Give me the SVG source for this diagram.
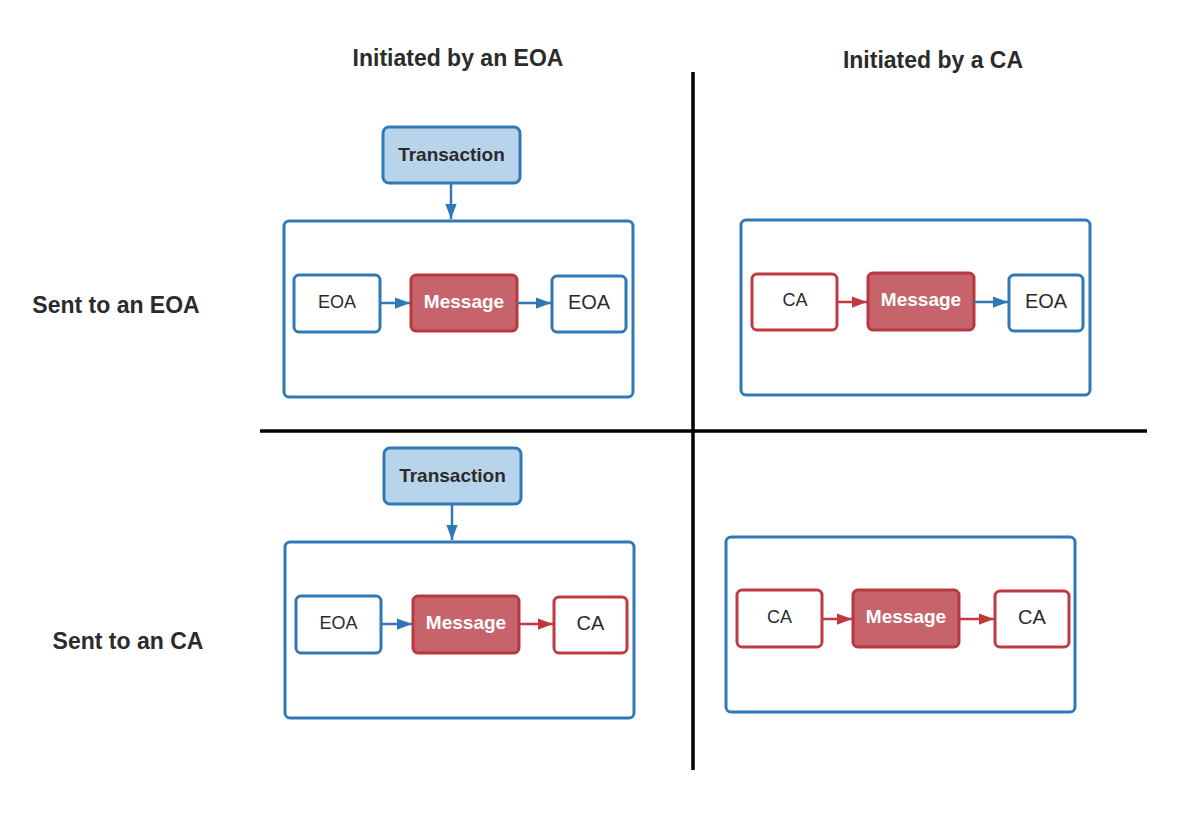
<svg xmlns="http://www.w3.org/2000/svg" width="1200" height="832" viewBox="0 0 1200 832">
<defs>
<marker id="ab" viewBox="0 0 12 9" refX="12" refY="4.5" markerWidth="6" markerHeight="4.5" orient="auto" markerUnits="strokeWidth"><path d="M0,0 L12,4.5 L0,9 z" fill="#2f78b5"/></marker>
<marker id="ar" viewBox="0 0 12 9" refX="12" refY="4.5" markerWidth="6" markerHeight="4.5" orient="auto" markerUnits="strokeWidth"><path d="M0,0 L12,4.5 L0,9 z" fill="#c0393f"/></marker>
</defs>
<style>
.bg{fill:#fff}
.cont{fill:#fff;stroke:#3179b6;stroke-width:3}
.tx{fill:#b8d4ea;stroke:#3179b6;stroke-width:3}
.eoa{fill:#fff;stroke:#3179b6;stroke-width:3}
.ca{fill:#fff;stroke:#c03a41;stroke-width:3}
.msg{fill:#c7646b;stroke:#b83840;stroke-width:3}
.lb{fill:none;stroke:#3179b6;stroke-width:2.5;marker-end:url(#ab)}
.lr{fill:none;stroke:#c03a41;stroke-width:2.5;marker-end:url(#ar)}
.axis{stroke:#000;stroke-width:3.5}
.h{font-family:"Liberation Sans",Arial,sans-serif;font-weight:bold;font-size:23px;fill:#2b2b2b;text-anchor:middle}
.t{font-family:"Liberation Sans",Arial,sans-serif;font-size:18px;fill:#2b2b2b;text-anchor:middle}
.tb{font-family:"Liberation Sans",Arial,sans-serif;font-weight:bold;font-size:19px;fill:#2b2b2b;text-anchor:middle}
.tw{font-family:"Liberation Sans",Arial,sans-serif;font-weight:bold;font-size:19px;fill:#fff;text-anchor:middle}
</style>
<rect class="bg" width="1200" height="832"/>
<g id="axes">
<line class="axis" x1="693" y1="72" x2="693" y2="770"/>
<line class="axis" x1="260" y1="431" x2="1147" y2="431"/>
</g>
<g id="headers">
<text class="h" x="458" y="66">Initiated by an EOA</text>
<text class="h" x="933" y="68">Initiated by a CA</text>
<text class="h" x="116" y="313">Sent to an EOA</text>
<text class="h" x="128" y="649">Sent to an CA</text>
</g>
<g id="q1">
<g id="q1-container"><rect class="cont" x="284" y="221" width="349" height="176" rx="5"/></g>
<g id="q1-tx"><rect class="tx" x="383" y="127" width="137" height="56" rx="6"/><text class="tb" x="451.5" y="161">Transaction</text></g>
<g id="q1-from"><rect class="eoa" x="294" y="275" width="86" height="57" rx="5"/><text class="t" x="337" y="308">EOA</text></g>
<g id="q1-msg"><rect class="msg" x="411" y="275" width="106" height="56" rx="5"/><text class="tw" x="464" y="308">Message</text></g>
<g id="q1-to"><rect class="eoa" x="552" y="276" width="74" height="56" rx="5"/><text class="t" x="589" y="309" style="font-size:20px">EOA</text></g>
</g>
<g id="q2">
<g id="q2-container"><rect class="cont" x="741" y="220" width="349" height="175" rx="5"/></g>
<g id="q2-from"><rect class="ca" x="752" y="274" width="85" height="56" rx="5"/><text class="t" x="795" y="306">CA</text></g>
<g id="q2-msg"><rect class="msg" x="868" y="273" width="106" height="57" rx="5"/><text class="tw" x="921" y="306">Message</text></g>
<g id="q2-to"><rect class="eoa" x="1009" y="275" width="74" height="56" rx="5"/><text class="t" x="1046" y="308" style="font-size:20px">EOA</text></g>
</g>
<g id="q3">
<g id="q3-container"><rect class="cont" x="285" y="542" width="349" height="176" rx="5"/></g>
<g id="q3-tx"><rect class="tx" x="384" y="448" width="137" height="56" rx="6"/><text class="tb" x="452.5" y="482">Transaction</text></g>
<g id="q3-from"><rect class="eoa" x="296" y="596" width="85" height="57" rx="5"/><text class="t" x="338.5" y="629">EOA</text></g>
<g id="q3-msg"><rect class="msg" x="413" y="596" width="106" height="57" rx="5"/><text class="tw" x="466" y="629">Message</text></g>
<g id="q3-to"><rect class="ca" x="554" y="597" width="73" height="56" rx="5"/><text class="t" x="590.5" y="630" style="font-size:20px">CA</text></g>
</g>
<g id="q4">
<g id="q4-container"><rect class="cont" x="726" y="537" width="349" height="175" rx="5"/></g>
<g id="q4-from"><rect class="ca" x="737" y="590" width="85" height="57" rx="5"/><text class="t" x="779.5" y="623">CA</text></g>
<g id="q4-msg"><rect class="msg" x="853" y="590" width="106" height="57" rx="5"/><text class="tw" x="906" y="623">Message</text></g>
<g id="q4-to"><rect class="ca" x="995" y="591" width="74" height="56" rx="5"/><text class="t" x="1032" y="624" style="font-size:20px">CA</text></g>
</g>
<g id="connectors">
<line class="lb" x1="451" y1="184" x2="451" y2="219"/>
<line class="lb" x1="380" y1="303" x2="410" y2="303"/>
<line class="lb" x1="517" y1="303" x2="551" y2="303"/>
<line class="lr" x1="837" y1="302" x2="867" y2="302"/>
<line class="lb" x1="974" y1="302" x2="1008" y2="302"/>
<line class="lb" x1="452" y1="505" x2="452" y2="540"/>
<line class="lb" x1="381" y1="624" x2="412" y2="624"/>
<line class="lr" x1="519" y1="624" x2="553" y2="624"/>
<line class="lr" x1="822" y1="619" x2="852" y2="619"/>
<line class="lr" x1="959" y1="619" x2="994" y2="619"/>
</g>
</svg>
